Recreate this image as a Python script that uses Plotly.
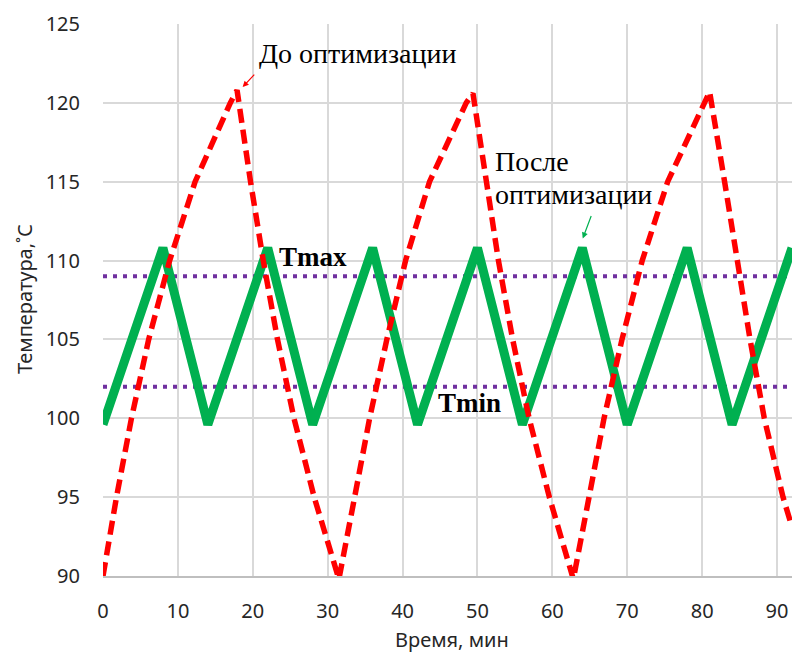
import plotly.graph_objects as go

# Red dashed series: "До оптимизации"
before_x = [0, 1.8, 3.8, 6.1, 8.9, 12.3, 17.0, 17.9,
            19.7, 21.4, 23.3, 25.5, 28.2, 31.5,
            33.6, 35.6, 37.9, 40.4, 43.6, 48.5, 49.4,
            51.1, 52.8, 54.7, 56.9, 59.6, 62.8,
            64.9, 66.9, 69.3, 72.0, 75.4, 80.2, 81.0,
            83.0, 84.7, 86.4, 88.3, 90.8, 92]
before_y = [90, 95, 100, 105, 110, 115, 120, 120.8,
            115, 110, 105, 100, 95, 89.8,
            95, 100, 105, 110, 115, 120, 120.6,
            115, 110, 105, 100, 95, 89.8,
            95, 100, 105, 110, 115, 120, 120.7,
            115, 110, 105, 100, 95, 93.1]

# Green solid series: "После оптимизации"
after_x = [0, 4, 8, 14, 18, 22, 28, 32, 36, 42, 46, 50, 56, 60, 64, 70, 74, 78, 84, 88, 92]
after_y = [99.6, 105.4, 110.8, 99.6, 105.4, 110.8, 99.6, 105.4, 110.8, 99.6, 105.4, 110.8,
           99.6, 105.4, 110.8, 99.6, 105.4, 110.8, 99.6, 105.4, 110.8]

t_range = [0, 92]
t_max = 109
t_min = 102

x_ticks = [0, 10, 20, 30, 40, 50, 60, 70, 80, 90]
y_ticks = [90, 95, 100, 105, 110, 115, 120, 125]

fig = go.Figure()
fig.add_trace(go.Scatter(x=t_range, y=[t_max, t_max], mode="lines",
                         line=dict(color="#7030A0", width=4, dash="4px,6px"), showlegend=False))
fig.add_trace(go.Scatter(x=t_range, y=[t_min, t_min], mode="lines",
                         line=dict(color="#7030A0", width=4, dash="4px,6px"), showlegend=False))
fig.add_trace(go.Scatter(x=after_x, y=after_y, mode="lines",
                         line=dict(color="#00B050", width=9), showlegend=False))
fig.add_trace(go.Scatter(x=before_x, y=before_y, mode="lines",
                         line=dict(color="#FF0000", width=5.5, dash="14px,7px"), showlegend=False))

serif = "Liberation Serif, Times New Roman, serif"
sans = "Noto Sans, Open Sans, sans-serif"

def px_x(p):
    return (p - 103) / 689

def px_y(p):
    return (576 - p) / 552

fig.add_annotation(x=18.65, y=121.0, xref="x", yref="y", ax=13, ay=-14, text="",
                   showarrow=True, arrowhead=2, arrowsize=1, arrowwidth=1.2, arrowcolor="#FF0000")
fig.add_annotation(x=64.06, y=111.4, xref="x", yref="y", ax=9, ay=-24, text="",
                   showarrow=True, arrowhead=2, arrowsize=1, arrowwidth=1.2, arrowcolor="#00B050")
fig.add_annotation(x=px_x(357.5), y=px_y(53), xref="paper", yref="paper",
                   text="До оптимизации",
                   showarrow=False, xanchor="center", yanchor="middle",
                   font=dict(family=serif, size=28, color="black"))
fig.add_annotation(x=px_x(493), y=px_y(161), xref="paper", yref="paper",
                   text="После", showarrow=False, xanchor="left", yanchor="middle",
                   font=dict(family=serif, size=28, color="black"))
fig.add_annotation(x=px_x(493), y=px_y(194), xref="paper", yref="paper",
                   text="оптимизации", showarrow=False, xanchor="left", yanchor="middle",
                   font=dict(family=serif, size=28, color="black"))
fig.add_annotation(x=28.1, y=110.2, xref="x", yref="y", text="<b>Tmax</b>",
                   showarrow=False, xanchor="center", yanchor="middle",
                   font=dict(family=serif, size=27, color="black"))
fig.add_annotation(x=49.0, y=101.0, xref="x", yref="y", text="<b>Tmin</b>",
                   showarrow=False, xanchor="center", yanchor="middle",
                   font=dict(family=serif, size=27, color="black"))
fig.add_annotation(x=px_x(452), y=px_y(639), xref="paper", yref="paper",
                   text="Время, мин", showarrow=False, xanchor="center", yanchor="middle",
                   font=dict(family=sans, size=20, color="#262626"))
fig.add_annotation(x=px_x(24), y=px_y(299), xref="paper", yref="paper",
                   text="Температура,˚С", textangle=-90, showarrow=False,
                   xanchor="center", yanchor="middle",
                   font=dict(family=sans, size=20, color="#262626"))

fig.update_xaxes(range=t_range, tickvals=x_ticks, showgrid=True, gridcolor="#D9D9D9", gridwidth=1.5,
                 zeroline=False, showline=True, linecolor="#BFBFBF", linewidth=1.5,
                 ticks="", ticklabelstandoff=16, tickfont=dict(family=sans, size=20, color="#262626"))
fig.update_yaxes(range=[90, 125], tickvals=y_ticks, showgrid=True, gridcolor="#D9D9D9", gridwidth=1.5,
                 zeroline=False, showline=False,
                 ticks="", ticklabelstandoff=22, tickfont=dict(family=sans, size=20, color="#262626"))

fig.update_layout(width=792, height=652, margin=dict(l=103, r=0, t=24, b=76),
                  plot_bgcolor="white", paper_bgcolor="white", showlegend=False)

fig.write_html("out.html", config={"displayModeBar": False},
               post_script="document.body.style.margin='0';")
